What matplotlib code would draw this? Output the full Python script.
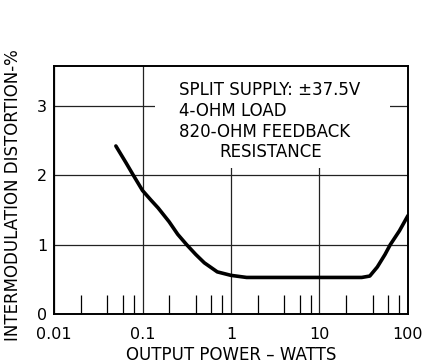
import matplotlib
matplotlib.use("Agg")
import matplotlib.pyplot as plt
from matplotlib.ticker import FixedLocator, NullFormatter
from matplotlib.patches import Rectangle

# IM distortion vs output power (4-ohm load, +/-37.5 V split supply)
power_w = [0.05, 0.065, 0.0787, 0.1, 0.125, 0.15, 0.2, 0.25, 0.316, 0.4, 0.5,
           0.7, 1.0, 1.5, 3, 10, 30, 37, 45, 55, 63, 80, 100]
imd_pct = [2.42, 2.18, 2.0, 1.78, 1.64, 1.53, 1.33, 1.15, 1.0, 0.86, 0.74,
           0.61, 0.56, 0.53, 0.53, 0.53, 0.53, 0.55, 0.68, 0.86, 1.0, 1.2, 1.42]

x_ticks = [0.01, 0.1, 1, 10, 100]
x_labels = ["0.01", "0.1", "1", "10", "100"]
x_minor = [m * d for d in (0.01, 0.1, 1, 10) for m in (2, 4, 6, 8)]
y_ticks = [0, 1, 2, 3]
y_labels = ["0", "1", "2", "3"]

notes = ["SPLIT SUPPLY: \u00b137.5V", "4-OHM LOAD", "820-OHM FEEDBACK"]
note_last = "RESISTANCE"

plt.rcParams.update({"font.family": "DejaVu Sans", "font.size": 11})

fig = plt.figure(figsize=(4.26, 3.64), dpi=100)
ax = fig.add_axes([0.1268, 0.1365, 0.8309, 0.6822])

ax.set_xscale("log")
ax.set_xlim(0.01, 100)
ax.set_ylim(0, 3.57)

ax.grid(True, which="major", color="#222222", linewidth=0.9)
ax.set_axisbelow(True)

ax.plot(power_w, imd_pct, color="black", linewidth=2.6, solid_capstyle="round",
        zorder=3)

# white panel behind the notes hides the grid there
ax.add_patch(Rectangle((0.285, 0.589), 0.664, 0.411, transform=ax.transAxes,
                       facecolor="white", edgecolor="none", zorder=1))
for i, s in enumerate(notes):
    ax.text(0.352, 0.905 - i * 0.086, s, transform=ax.transAxes, fontsize=12,
            ha="left", va="center", zorder=4)
ax.text(0.613, 0.905 - 3 * 0.084, note_last, transform=ax.transAxes,
        fontsize=12, ha="center", va="center", zorder=4)

ax.xaxis.set_major_locator(FixedLocator(x_ticks))
ax.set_xticklabels(x_labels)
ax.xaxis.set_minor_locator(FixedLocator(x_minor))
ax.xaxis.set_minor_formatter(NullFormatter())
ax.set_yticks(y_ticks)
ax.set_yticklabels(y_labels)

ax.tick_params(axis="x", which="major", length=0, pad=9, labelsize=11.5)
ax.tick_params(axis="y", which="major", length=0, pad=5, labelsize=11.5)
ax.tick_params(axis="x", which="minor", direction="in", length=14, width=0.9,
               bottom=True, top=False)
ax.tick_params(axis="y", which="minor", left=False)

for sp in ax.spines.values():
    sp.set_linewidth(1.4)

ax.set_xlabel("OUTPUT POWER \u2013 WATTS", fontsize=12)
ax.xaxis.set_label_coords(0.5, -0.127)
ax.set_ylabel("INTERMODULATION DISTORTION-%", fontsize=12)
ax.yaxis.set_label_coords(-0.09, 0.48)

fig.savefig("out.png", dpi=100)
